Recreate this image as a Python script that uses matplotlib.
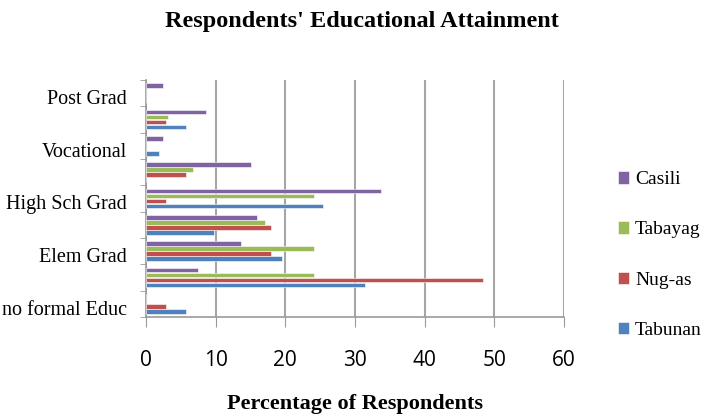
import numpy as np
import matplotlib.pyplot as plt

# Category slots from bottom to top (only every other one is labelled in the chart)
categories = ["no formal Educ", "", "Elem Grad", "", "High Sch Grad", "", "Vocational", "", "Post Grad"]

# Percentage of respondents per barangay
tabunan = [5.8, 31.4, 19.5, 9.7, 25.4, 0.0, 1.8, 5.8, 0.0]
nugas = [2.9, 48.4, 18.0, 18.0, 2.9, 5.8, 0.0, 2.9, 0.0]
tabayag = [0.0, 24.1, 24.1, 17.1, 24.1, 6.7, 0.0, 3.2, 0.0]
casili = [0.0, 7.4, 13.7, 16.0, 33.7, 15.0, 2.4, 8.6, 2.4]

series = [("Tabunan", tabunan, "#4F81BD"),
          ("Nug-as", nugas, "#C0504D"),
          ("Tabayag", tabayag, "#9BBB59"),
          ("Casili", casili, "#8064A2")]

serif = "Liberation Serif"

fig = plt.figure(figsize=(7.02, 4.15), dpi=100)
ax = fig.add_axes([146 / 702, 1 - 317 / 415, 418 / 702, 237 / 415])

y = np.arange(len(categories))
h = 0.19
handles = []
for i, (name, vals, col) in enumerate(series):
    b = ax.barh(y + (i - 1.5) * h, vals, height=h * 0.95, color=col,
                edgecolor="white", linewidth=0.4, label=name, zorder=3)
    handles.append(b)

ax.set_xlim(0, 60)
ax.set_ylim(-0.5, len(categories) - 0.5)
ax.set_xticks(np.arange(0, 61, 10))
ax.tick_params(axis="x", labelsize=15, length=7, color="#999999", pad=17)
for t in ax.get_xticklabels():
    t.set_fontfamily("Open Sans")
ax.xaxis.grid(True, color="#A6A6A6", linewidth=1.5, zorder=0)

# labels at every other category, tick marks at category boundaries
ax.set_yticks(y[::2] - 0.15)
ax.set_yticklabels(categories[::2], fontfamily=serif, fontsize=14.5)
ax.tick_params(axis="y", length=0, pad=14)
ax.set_yticks(np.arange(-0.5, len(categories), 1), minor=True)
ax.tick_params(axis="y", which="minor", length=4, color="#999999")

for s in ["top", "right"]:
    ax.spines[s].set_visible(False)
for s in ["left", "bottom"]:
    ax.spines[s].set_color("#999999")
    ax.spines[s].set_linewidth(1.2)

ax.set_xlabel("Percentage of Respondents", fontfamily=serif, fontsize=16,
              fontweight="bold", labelpad=16)
fig.text(361.5 / 702, 1 - 21 / 415, "Respondents' Educational Attainment", fontfamily=serif,
         fontsize=17.5, fontweight="bold", ha="center", va="center")

fig.legend(handles[::-1], [s[0] for s in series[::-1]], loc="center left",
           bbox_to_anchor=(600 / 702, 1 - 255 / 415), frameon=False,
           prop={"family": serif, "size": 14}, handlelength=0.6, handleheight=0.6,
           handletextpad=0.3, labelspacing=1.7)

fig.savefig("out.png", dpi=100)
